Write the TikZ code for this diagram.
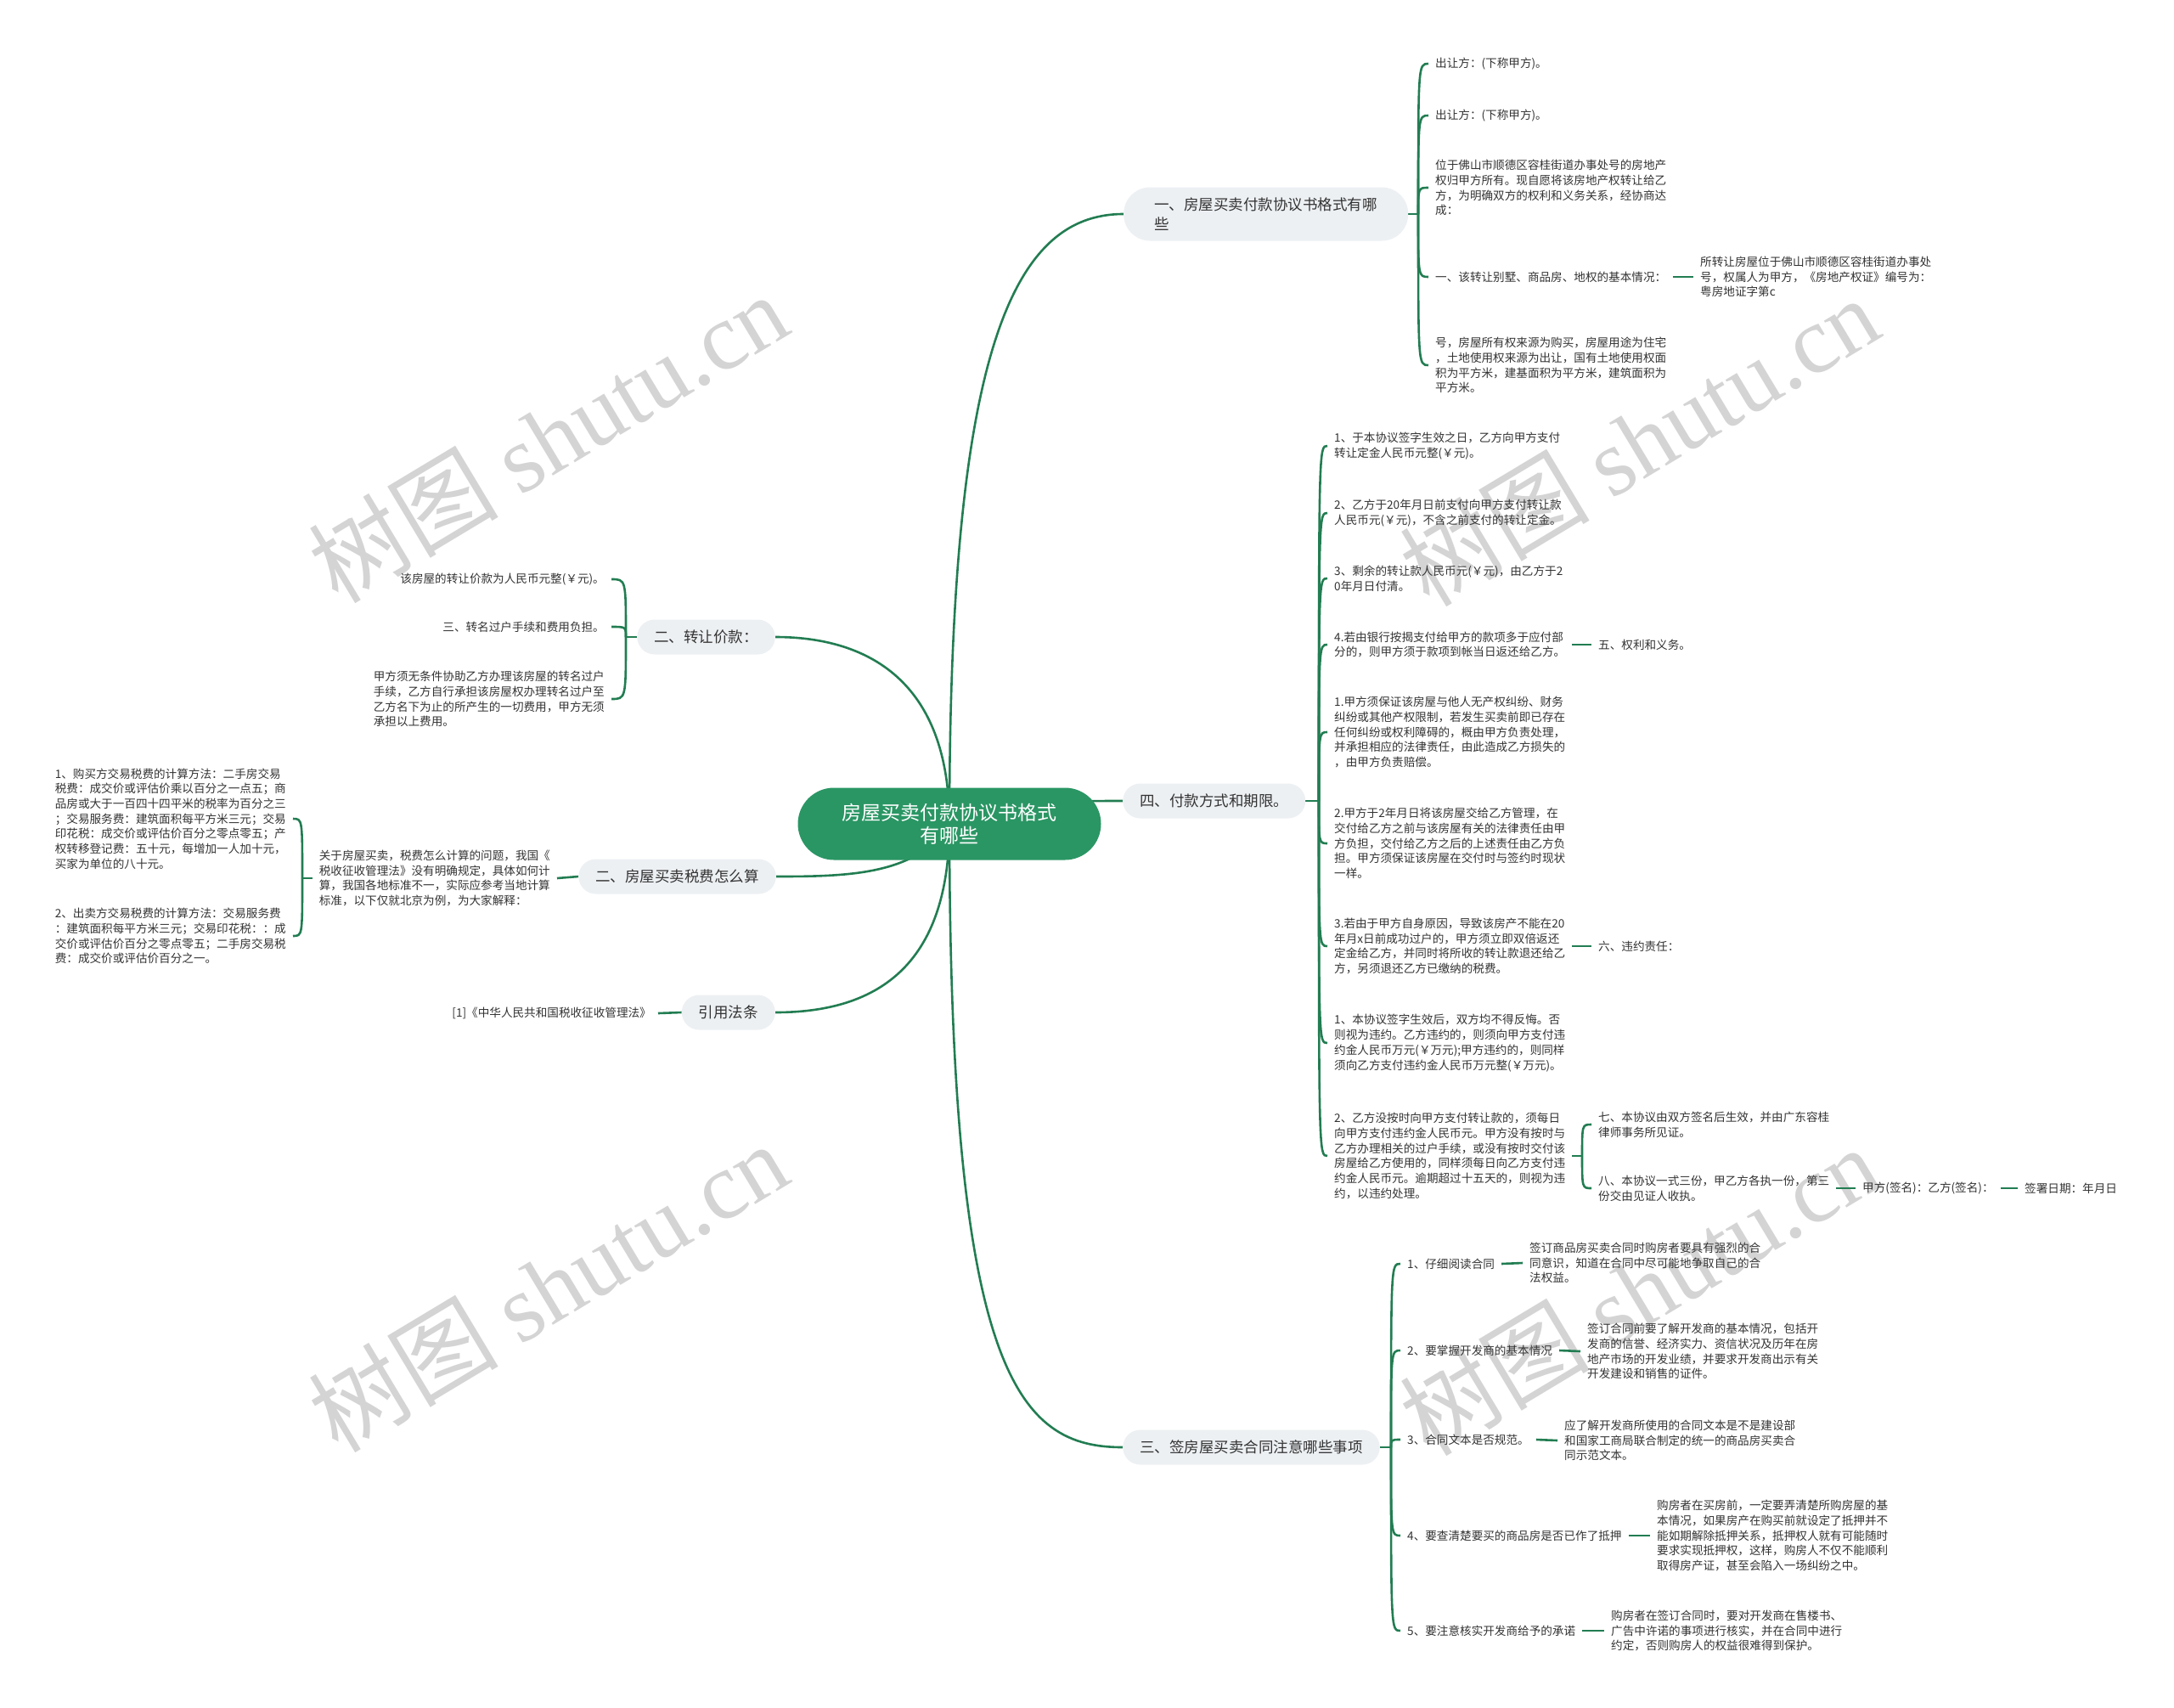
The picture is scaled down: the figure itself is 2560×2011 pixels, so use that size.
\documentclass[tikz,border=0pt]{standalone}
\usepackage{fontspec}
\setmainfont{Noto Sans CJK SC}
\newfontfamily\wmserif{Liberation Serif}
\usetikzlibrary{backgrounds}
\definecolor{lc}{RGB}{34,125,82}
\definecolor{cgreen}{RGB}{42,150,100}
\definecolor{pillc}{RGB}{237,240,243}
\definecolor{txt}{RGB}{51,51,51}
\definecolor{wmc}{RGB}{212,212,212}
\newcommand{\fleaf}{\fontsize{13.6}{17.7}\selectfont}
\newcommand{\fone}{\fontsize{17.5}{23}\selectfont}
\newcommand{\fcen}{\fontsize{23}{27}\selectfont}
\newcommand{\fwm}{\fontsize{112}{112}\selectfont}
\begin{document}
\begin{tikzpicture}[x=1pt,y=-1pt,
  leaf/.style={inner xsep=8, inner ysep=3, align=left, font=\fleaf, text=txt},
  pill/.style={fill=pillc, rounded corners=20.5, minimum height=41, inner xsep=20, inner ysep=6, font=\fone, text=txt},
  cen/.style={fill=cgreen, rounded corners=42.5, minimum width=357, minimum height=85, align=center, font=\fcen, text=white},
  link/.style={draw=lc, line width=2.6},
  wm/.style={rotate=31, text=wmc, font=\fwm},
]
\useasboundingbox (0,0) rectangle (2560,2011);

% center
\node[cen] (c) at (1118,970) {房屋买卖付款协议书格式\\有哪些};

% level 1
\node[pill, anchor=west, minimum width=335, minimum height=63, rounded corners=31, align=left] (A) at (1323,252) {一、房屋买卖付款协议书格式有哪\\些};
\node[pill, anchor=west] (B) at (1322,943) {四、付款方式和期限。};
\node[pill, anchor=west] (C) at (1322,1704) {三、签房屋买卖合同注意哪些事项};
\node[pill, anchor=east] (D) at (913,750) {二、转让价款：};
\node[pill, anchor=east] (E) at (914,1032) {二、房屋买卖税费怎么算};
\node[pill, anchor=east] (F) at (913,1192) {引用法条};

% A children
\coordinate (As) at (1670,252);
\node[leaf, anchor=west] (A1) at (1682,75) {出让方：(下称甲方)。};
\node[leaf, anchor=west] (A2) at (1682,136) {出让方：(下称甲方)。};
\node[leaf, anchor=west] (A3) at (1682,221) {位于佛山市顺德区容桂街道办事处号的房地产\\权归甲方所有。现自愿将该房地产权转让给乙\\方，为明确双方的权利和义务关系，经协商达\\成：};
\node[leaf, anchor=west] (A4) at (1682,326) {一、该转让别墅、商品房、地权的基本情况：};
\node[leaf, anchor=west] (A4c) at (1994,326) {所转让房屋位于佛山市顺德区容桂街道办事处\\号，权属人为甲方，《房地产权证》编号为：\\粤房地证字第c};
\node[leaf, anchor=west] (A5) at (1682,430) {号，房屋所有权来源为购买，房屋用途为住宅\\，土地使用权来源为出让，国有土地使用权面\\积为平方米，建基面积为平方米，建筑面积为\\平方米。};

% B children
\coordinate (Bs) at (1553,943);
\node[leaf, anchor=west] (B1) at (1563,525) {1、于本协议签字生效之日，乙方向甲方支付\\转让定金人民币元整(￥元)。};
\node[leaf, anchor=west] (B2) at (1563,604) {2、乙方于20年月日前支付向甲方支付转让款\\人民币元(￥元)，不含之前支付的转让定金。};
\node[leaf, anchor=west] (B3) at (1563,681) {3、剩余的转让款人民币元(￥元)，由乙方于2\\0年月日付清。};
\node[leaf, anchor=west] (B4) at (1563,759) {4.若由银行按揭支付给甲方的款项多于应付部\\分的，则甲方须于款项到帐当日返还给乙方。};
\node[leaf, anchor=west] (B4c) at (1874,759) {五、权利和义务。};
\node[leaf, anchor=west] (B5) at (1563,862) {1.甲方须保证该房屋与他人无产权纠纷、财务\\纠纷或其他产权限制，若发生买卖前即已存在\\任何纠纷或权利障碍的，概由甲方负责处理，\\并承担相应的法律责任，由此造成乙方损失的\\，由甲方负责赔偿。};
\node[leaf, anchor=west] (B6) at (1563,993) {2.甲方于2年月日将该房屋交给乙方管理，在\\交付给乙方之前与该房屋有关的法律责任由甲\\方负担，交付给乙方之后的上述责任由乙方负\\担。甲方须保证该房屋在交付时与签约时现状\\一样。};
\node[leaf, anchor=west] (B7) at (1563,1114) {3.若由于甲方自身原因，导致该房产不能在20\\年月x日前成功过户的，甲方须立即双倍返还\\定金给乙方，并同时将所收的转让款退还给乙\\方，另须退还乙方已缴纳的税费。};
\node[leaf, anchor=west] (B7c) at (1874,1114) {六、违约责任：};
\node[leaf, anchor=west] (B8) at (1563,1228) {1、本协议签字生效后，双方均不得反悔。否\\则视为违约。乙方违约的，则须向甲方支付违\\约金人民币万元(￥万元);甲方违约的，则同样\\须向乙方支付违约金人民币万元整(￥万元)。};
\node[leaf, anchor=west] (B9) at (1563,1361) {2、乙方没按时向甲方支付转让款的，须每日\\向甲方支付违约金人民币元。甲方没有按时与\\乙方办理相关的过户手续，或没有按时交付该\\房屋给乙方使用的，同样须每日向乙方支付违\\约金人民币元。逾期超过十五天的，则视为违\\约，以违约处理。};
\coordinate (B9s) at (1863,1361);
\node[leaf, anchor=west] (B9a) at (1874,1324) {七、本协议由双方签名后生效，并由广东容桂\\律师事务所见证。};
\node[leaf, anchor=west] (B9b) at (1874,1399) {八、本协议一式三份，甲乙方各执一份，第三\\份交由见证人收执。};
\node[leaf, anchor=west] (B9c) at (2185,1399) {甲方(签名)：乙方(签名)：};
\node[leaf, anchor=west] (B9d) at (2376,1399) {签署日期：年月日};

% C children
\coordinate (Cs) at (1638,1704);
\node[leaf, anchor=west] (C1) at (1649,1488) {1、仔细阅读合同};
\node[leaf, anchor=west] (C1c) at (1793,1487) {签订商品房买卖合同时购房者要具有强烈的合\\同意识，知道在合同中尽可能地争取自己的合\\法权益。};
\node[leaf, anchor=west] (C2) at (1649,1590) {2、要掌握开发商的基本情况};
\node[leaf, anchor=west] (C2c) at (1861,1591) {签订合同前要了解开发商的基本情况，包括开\\发商的信誉、经济实力、资信状况及历年在房\\地产市场的开发业绩，并要求开发商出示有关\\开发建设和销售的证件。};
\node[leaf, anchor=west] (C3) at (1649,1695) {3、合同文本是否规范。};
\node[leaf, anchor=west] (C3c) at (1834,1696) {应了解开发商所使用的合同文本是不是建设部\\和国家工商局联合制定的统一的商品房买卖合\\同示范文本。};
\node[leaf, anchor=west] (C4) at (1649,1808) {4、要查清楚要买的商品房是否已作了抵押};
\node[leaf, anchor=west] (C4c) at (1943,1808) {购房者在买房前，一定要弄清楚所购房屋的基\\本情况，如果房产在购买前就设定了抵押并不\\能如期解除抵押关系，抵押权人就有可能随时\\要求实现抵押权，这样，购房人不仅不能顺利\\取得房产证，甚至会陷入一场纠纷之中。};
\node[leaf, anchor=west] (C5) at (1649,1920) {5、要注意核实开发商给予的承诺};
\node[leaf, anchor=west] (C5c) at (1889,1920) {购房者在签订合同时，要对开发商在售楼书、\\广告中许诺的事项进行核实，并在合同中进行\\约定，否则购房人的权益很难得到保护。};

% D children
\coordinate (Ds) at (737,750);
\node[leaf, anchor=east] (D1) at (720,682) {该房屋的转让价款为人民币元整(￥元)。};
\node[leaf, anchor=east] (D2) at (720,738) {三、转名过户手续和费用负担。};
\node[leaf, anchor=east] (D3) at (720,823) {甲方须无条件协助乙方办理该房屋的转名过户\\手续，乙方自行承担该房屋权办理转名过户至\\乙方名下为止的所产生的一切费用，甲方无须\\承担以上费用。};

% E children
\node[leaf, anchor=east] (Ec) at (656,1034) {关于房屋买卖，税费怎么计算的问题，我国《\\税收征收管理法》没有明确规定，具体如何计\\算，我国各地标准不一，实际应参考当地计算\\标准，以下仅就北京为例，为大家解释：};
\coordinate (Es) at (356,1034);
\node[leaf, anchor=east] (E1a) at (345,964) {1、购买方交易税费的计算方法：二手房交易\\税费：成交价或评估价乘以百分之一点五；商\\品房或大于一百四十四平米的税率为百分之三\\；交易服务费：建筑面积每平方米三元；交易\\印花税：成交价或评估价百分之零点零五；产\\权转移登记费：五十元，每增加一人加十元，\\买家为单位的八十元。};
\node[leaf, anchor=east] (E1b) at (345,1102) {2、出卖方交易税费的计算方法：交易服务费\\：建筑面积每平方米三元；交易印花税：：成\\交价或评估价百分之零点零五；二手房交易税\\费：成交价或评估价百分之一。};

% F child
\node[leaf, anchor=east] (Fc) at (775,1193) {[1]《中华人民共和国税收征收管理法》};

\begin{scope}[on background layer]
\fill[white] (0,0) rectangle (2560,2011);
\node[wm] (wm1) at (645,515) {树图 {\wmserif shutu.cn}};
\node[wm] (wm2) at (1930,519) {树图 {\wmserif shutu.cn}};
\node[wm] (wm3) at (645,1515) {树图 {\wmserif shutu.cn}};
\node[wm] (wm4) at (1930,1519) {树图 {\wmserif shutu.cn}};

% center links
\draw[link] (c.center) .. controls (1118,420) and (1190,252) .. (A.west);
\draw[link] (c.center) .. controls (1250,943) .. (B.west);
\draw[link] (c.center) .. controls (1118,1620) and (1200,1704) .. (C.west);
\draw[link] (c.center) .. controls (1118,800) and (1020,750) .. (D.east);
\draw[link] (c.center) .. controls (1080,1030) and (1000,1032) .. (E.east);
\draw[link] (c.center) .. controls (1118,1140) and (1030,1192) .. (F.east);

% A brace
\draw[link] (A.east) -- (As);
\foreach \n in {A1,A2,A3,A4,A5}
  \draw[link] (As) .. controls (As |- \n.west) and (As |- \n.west) .. (\n.west);
\draw[link] (A4.east) -- (A4c.west);

% B brace
\draw[link] (B.east) -- (Bs);
\foreach \n in {B1,B2,B3,B4,B5,B6,B7,B8,B9}
  \draw[link] (Bs) .. controls (Bs |- \n.west) and (Bs |- \n.west) .. (\n.west);
\draw[link] (B4.east) -- (B4c.west);
\draw[link] (B7.east) -- (B7c.west);
\draw[link] (B9.east) -- (B9s);
\foreach \n in {B9a,B9b}
  \draw[link] (B9s) .. controls (B9s |- \n.west) and (B9s |- \n.west) .. (\n.west);
\draw[link] (B9b.east) -- (B9c.west);
\draw[link] (B9c.east) -- (B9d.west);

% C brace
\draw[link] (C.east) -- (Cs);
\foreach \n in {C1,C2,C3,C4,C5}
  \draw[link] (Cs) .. controls (Cs |- \n.west) and (Cs |- \n.west) .. (\n.west);
\draw[link] (C1.east) -- (C1c.west);
\draw[link] (C2.east) -- (C2c.west);
\draw[link] (C3.east) -- (C3c.west);
\draw[link] (C4.east) -- (C4c.west);
\draw[link] (C5.east) -- (C5c.west);

% D brace
\draw[link] (D.west) -- (Ds);
\foreach \n in {D1,D2,D3}
  \draw[link] (Ds) .. controls (Ds |- \n.east) and (Ds |- \n.east) .. (\n.east);

% E
\draw[link] (E.west) -- (Ec.east);
\draw[link] (Ec.west) -- (Es);
\foreach \n in {E1a,E1b}
  \draw[link] (Es) .. controls (Es |- \n.east) and (Es |- \n.east) .. (\n.east);

% F
\draw[link] (F.west) -- (Fc.east);
\end{scope}
\end{tikzpicture}
\end{document}
